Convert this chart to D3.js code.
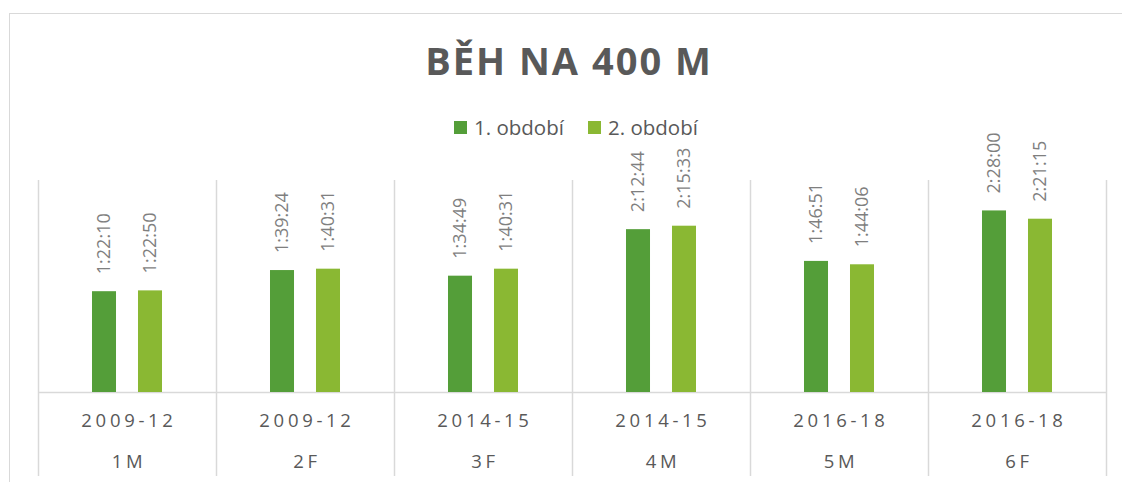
<!DOCTYPE html>
<html>
<head>
<meta charset="utf-8">
<script src="https://cdn.jsdelivr.net/npm/d3@7"></script>
<style>
  body { margin: 0; background: #fff; }
  text { font-family: "Open Sans", sans-serif; }
</style>
</head>
<body>
<script>
// data
var periods = ["2009-12", "2009-12", "2014-15", "2014-15", "2016-18", "2016-18"];
var groups  = ["1M", "2F", "3F", "4M", "5M", "6F"];
var series1 = ["1:22:10", "1:39:24", "1:34:49", "2:12:44", "1:46:51", "2:28:00"];
var series2 = ["1:22:50", "1:40:31", "1:40:31", "2:15:33", "1:44:06", "2:21:15"];
var seriesNames = ["1. období", "2. období"];
var colors = ["#549e39", "#8ab833"];
var yMax = 0.12 * 86400;   // excel axis max 2:52:48

function toSec(s) {
  var p = s.split(":").map(Number);
  return p[0] * 3600 + p[1] * 60 + p[2];
}

var width = 1122, height = 482;
var plot = {left: 38, right: 1106, top: 180, base: 392, bottom: 476};

var svg = d3.select("body").append("svg")
    .attr("width", width)
    .attr("height", height);

// chart border (cropped on right and bottom)
svg.append("rect")
    .attr("x", 9.5).attr("y", 13.5)
    .attr("width", 1130).attr("height", 500)
    .attr("fill", "#fff")
    .attr("stroke", "#d9d9d9");

var x = d3.scaleBand()
    .domain(d3.range(groups.length))
    .range([plot.left, plot.right])
    .padding(0);

var xs = d3.scaleBand()
    .domain([0, 1])
    .range([0, x.bandwidth()])
    .paddingInner(0.478)
    .paddingOuter(1.174);

var y = d3.scaleLinear()
    .domain([0, yMax])
    .range([plot.base, plot.top]);

// category separators
var seps = d3.range(groups.length + 1).map(function(i) {
  return i < groups.length ? x(i) : plot.right;
});
svg.append("g").selectAll("line")
    .data(seps)
    .enter().append("line")
    .attr("x1", function(d) { return Math.round(d) + 0.5; })
    .attr("x2", function(d) { return Math.round(d) + 0.5; })
    .attr("y1", plot.top)
    .attr("y2", plot.bottom)
    .attr("stroke", "#d9d9d9")
    .attr("stroke-width", 1.5);

// baseline
svg.append("line")
    .attr("x1", plot.left).attr("x2", plot.right)
    .attr("y1", plot.base + 0.5).attr("y2", plot.base + 0.5)
    .attr("stroke", "#d9d9d9")
    .attr("stroke-width", 1.5);

// bars
var rows = groups.map(function(g, i) {
  return [toSec(series1[i]), toSec(series2[i])];
});
var labels = groups.map(function(g, i) { return [series1[i], series2[i]]; });

var grp = svg.append("g").selectAll("g")
    .data(rows)
    .enter().append("g")
    .attr("transform", function(d, i) { return "translate(" + x(i) + ",0)"; });

grp.selectAll("rect")
    .data(function(d) { return d; })
    .enter().append("rect")
    .attr("x", function(d, j) { return xs(j); })
    .attr("y", function(d) { return y(d); })
    .attr("width", xs.bandwidth())
    .attr("height", function(d) { return y(0) - y(d); })
    .attr("fill", function(d, j) { return colors[j]; });

grp.selectAll("text")
    .data(function(d, i) { return d.map(function(v, j) { return {v: v, t: labels[i][j], j: j}; }); })
    .enter().append("text")
    .attr("transform", function(d) {
      return "translate(" + (xs(d.j) + xs.bandwidth() / 2) + "," + (y(d.v) - 17) + ") rotate(-90)";
    })
    .attr("dy", "0.36em")
    .attr("font-size", "18px")
    .attr("fill", "#7f7f7f")
    .text(function(d) { return d.t; });

// category labels, two levels
var cats = svg.append("g");
cats.selectAll(".period")
    .data(periods)
    .enter().append("text")
    .attr("class", "period")
    .attr("x", function(d, i) { return x(i) + x.bandwidth() / 2 + 2; })
    .attr("y", 427)
    .attr("text-anchor", "middle")
    .attr("font-size", "18.5px")
    .attr("letter-spacing", "3.7px")
    .attr("fill", "#595959")
    .text(function(d) { return d; });

cats.selectAll(".grp")
    .data(groups)
    .enter().append("text")
    .attr("class", "grp")
    .attr("x", function(d, i) { return x(i) + x.bandwidth() / 2 + 2; })
    .attr("y", 468)
    .attr("text-anchor", "middle")
    .attr("font-size", "18.5px")
    .attr("letter-spacing", "3.7px")
    .attr("fill", "#595959")
    .text(function(d) { return d; });

// title
svg.append("text")
    .attr("x", 569)
    .attr("y", 75)
    .attr("text-anchor", "middle")
    .attr("font-size", "38px")
    .attr("font-weight", 700)
    .attr("letter-spacing", "2px")
    .attr("fill", "#595959")
    .text("BĚH NA 400 M");

// legend
var legX = [454, 588];
var leg = svg.append("g").selectAll("g")
    .data(seriesNames)
    .enter().append("g")
    .attr("transform", function(d, i) { return "translate(" + legX[i] + ",121)"; });
leg.append("rect")
    .attr("width", 13).attr("height", 13)
    .attr("fill", function(d, i) { return colors[i]; });
leg.append("text")
    .attr("x", 20)
    .attr("y", 14)
    .attr("font-size", "20.5px")
    .attr("fill", "#595959")
    .text(function(d) { return d; });
</script>
</body>
</html>
